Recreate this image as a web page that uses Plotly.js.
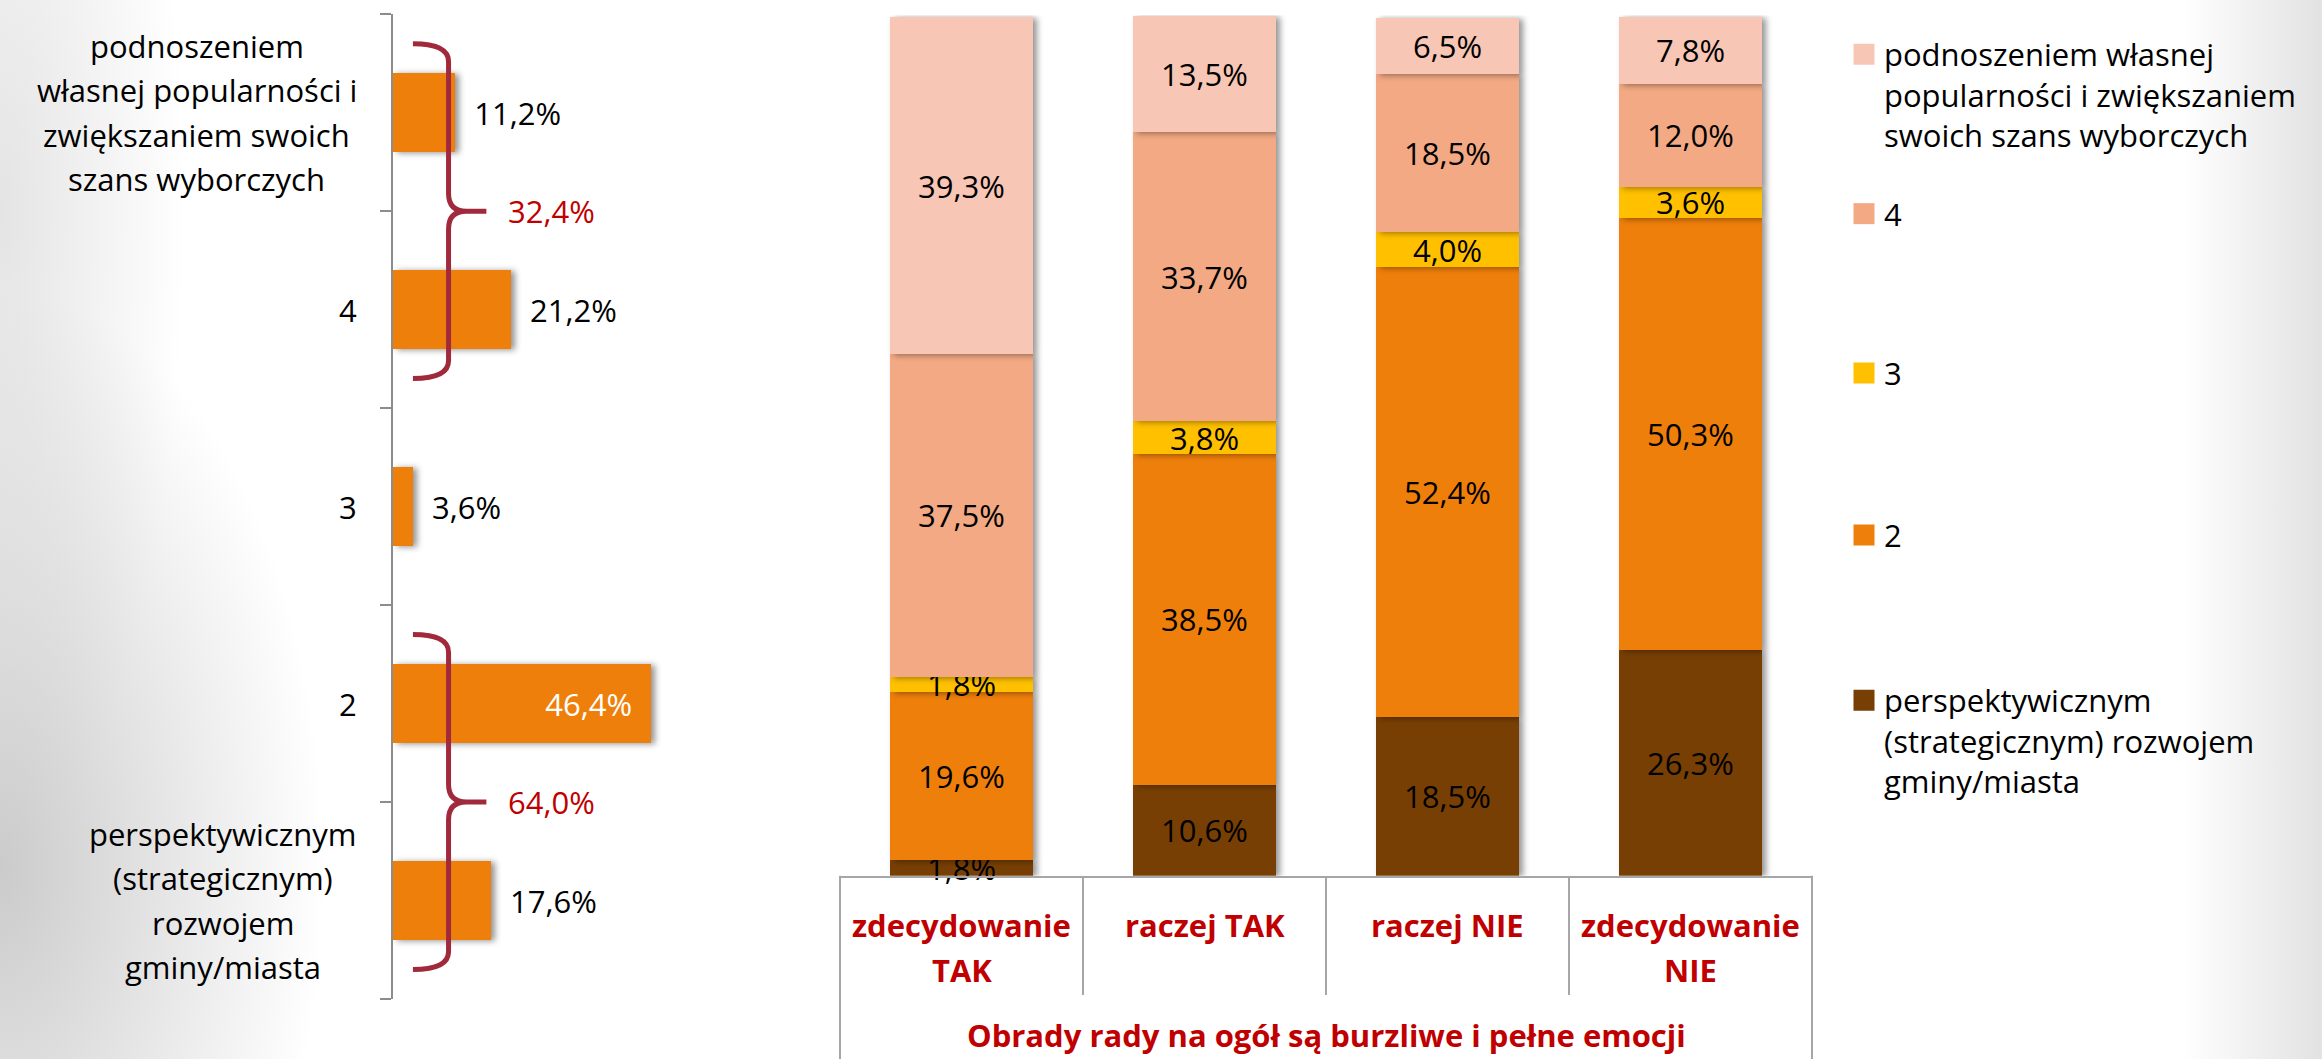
<!DOCTYPE html>
<html>
<head>
<meta charset="utf-8">
<script src="https://cdn.plot.ly/plotly-3.0.1.min.js"></script>
<style>
html,body{margin:0;padding:0;}
body{
  width:2322px;height:1059px;overflow:hidden;
  background:
    radial-gradient(ellipse 14% 55% at 0% 82%, rgba(200,200,200,0.95), rgba(255,255,255,0) 100%),
    radial-gradient(ellipse 8% 60% at 0% 20%, rgba(225,225,225,0.9), rgba(255,255,255,0) 100%),
    linear-gradient(to left, rgba(226,226,226,1) 0%, rgba(255,255,255,0) 6%),
    #ffffff;
}
#chart{width:2322px;height:1059px;}
.barlayer .point path{filter:drop-shadow(4px 1px 3px rgba(0,0,0,0.42));}
</style>
</head>
<body>
<div id="chart"></div>
<script>
// ---------------- DATA ----------------
const leftCategories = [
  'perspektywicznym (strategicznym) rozwojem gminy/miasta',
  '2',
  '3',
  '4',
  'podnoszeniem własnej popularności i zwiększaniem swoich szans wyborczych'
];
const leftLabelLines = [
  ['perspektywicznym', '(strategicznym)', 'rozwojem', 'gminy/miasta'],
  ['2'],
  ['3'],
  ['4'],
  ['podnoszeniem', 'własnej popularności i', 'zwiększaniem swoich', 'szans wyborczych']
];
const leftValues = [17.6, 46.4, 3.6, 21.2, 11.2];
const leftTextPositions = ['outside', 'inside', 'outside', 'outside', 'outside'];
const leftTextColors = ['#000000', '#ffffff', '#000000', '#000000', '#000000'];
const braceGroups = [[3, 4], [0, 1]];   // category index pairs summed by the braces

const rightCategories = ['zdecydowanie TAK', 'raczej TAK', 'raczej NIE', 'zdecydowanie NIE'];
const rightLabelLines = [['zdecydowanie', 'TAK'], ['raczej TAK'], ['raczej NIE'], ['zdecydowanie', 'NIE']];
const groupTitle = 'Obrady rady na ogół są burzliwe i pełne emocji';

const seriesLegendNames = [
  'perspektywicznym<br>(strategicznym) rozwojem<br>gminy/miasta',
  '2',
  '3',
  '4',
  'podnoszeniem własnej<br>popularności i zwiększaniem<br>swoich szans wyborczych'
];
const seriesPerspektywicznym = [1.8, 10.6, 18.5, 26.3];
const series2 = [19.6, 38.5, 52.4, 50.3];
const series3 = [1.8, 3.8, 4.0, 3.6];
const series4 = [37.5, 33.7, 18.5, 12.0];
const seriesPodnoszeniem = [39.3, 13.5, 6.5, 7.8];
const seriesValues = [seriesPerspektywicznym, series2, series3, series4, seriesPodnoszeniem];

// ---------------- STYLE / LAYOUT ----------------
const W = 2322, H = 1059;
const FONT = "'Open Sans', 'Noto Sans', sans-serif";
const FS = 31;
const seriesColors = ['#783F04', '#EF7F0B', '#FFC000', '#F2A984', '#F7C6B5'];
const barOrange = '#EF7F0B';
const red = '#C00000';
const braceColor = '#A02A3C';
const axisGray = '#8C8C8C';
const tableGray = '#A6A6A6';
const legendTopY = [698.7, 533.4, 371.3, 212, 52.5];

const fx = px => px / W;
const fy = py => 1 - py / H;

// measure text width for centring multi-line category labels
const ctx = document.createElement('canvas').getContext('2d');
ctx.font = FS + "px 'Open Sans'";
const tw = s => ctx.measureText(s).width;

// ---------------- TRACES ----------------
const traces = [];

traces.push({
  type: 'bar', orientation: 'h',
  x: leftValues, y: leftCategories,
  xaxis: 'x', yaxis: 'y',
  width: 0.4,
  marker: {color: barOrange, line: {width: 0}},
  texttemplate: leftTextPositions.map(p => p === 'inside' ? '%{x:.1f}%\u00a0\u00a0' : '\u00a0\u00a0%{x:.1f}%'),
  textposition: leftTextPositions,
  insidetextanchor: 'end',
  textangle: 0,
  textfont: {family: FONT, size: FS, color: leftTextColors},
  insidetextfont: {family: FONT, size: FS, color: leftTextColors},
  outsidetextfont: {family: FONT, size: FS, color: leftTextColors},
  cliponaxis: false,
  showlegend: false,
  hoverinfo: 'skip'
});

seriesValues.forEach((vals, i) => {
  traces.push({
    type: 'bar',
    x: rightCategories, y: vals,
    xaxis: 'x2', yaxis: 'y2',
    name: seriesLegendNames[i],
    legend: i === 0 ? 'legend' : 'legend' + (i + 1),
    width: 0.59,
    marker: {color: seriesColors[i], line: {width: 0}},
    texttemplate: '%{y:.1f}%',
    textposition: 'inside',
    insidetextanchor: 'middle',
    textangle: 0,
    textfont: {family: FONT, size: FS, color: '#000000'},
    insidetextfont: {family: FONT, size: FS, color: '#000000'},
    cliponaxis: false,
    hoverinfo: 'skip'
  });
});

// ---------------- SHAPES ----------------
const shapes = [];
const STEM = 10.0, TAIL = 3.6, TIP = 16.8, CURLX = 3.2, HALF = 0.85, CURLY = 0.09;
const f = v => v.toFixed(3);
braceGroups.forEach(g => {
  const c = (g[0] + g[1]) / 2;
  const p =
    'M' + f(TAIL) + ',' + f(c + HALF) +
    ' Q' + f(STEM) + ',' + f(c + HALF) + ' ' + f(STEM) + ',' + f(c + HALF - CURLY) +
    ' L' + f(STEM) + ',' + f(c + CURLY) +
    ' Q' + f(STEM) + ',' + f(c) + ' ' + f(STEM + CURLX) + ',' + f(c) +
    ' L' + f(TIP) + ',' + f(c) +
    ' M' + f(STEM + CURLX) + ',' + f(c) +
    ' Q' + f(STEM) + ',' + f(c) + ' ' + f(STEM) + ',' + f(c - CURLY) +
    ' L' + f(STEM) + ',' + f(c - HALF + CURLY) +
    ' Q' + f(STEM) + ',' + f(c - HALF) + ' ' + f(TAIL) + ',' + f(c - HALF);
  shapes.push({type: 'path', xref: 'x', yref: 'y', path: p,
    line: {color: braceColor, width: 5}, fillcolor: 'rgba(0,0,0,0)', layer: 'above'});
});
// outer table borders of the category axis (right chart)
[0, 1].forEach(d => {
  shapes.push({type: 'line', xref: 'x2 domain', yref: 'paper', x0: d, x1: d,
    y0: 0, y1: fy(875.8), line: {color: tableGray, width: 2}});
});

// ---------------- ANNOTATIONS ----------------
const annotations = [];
const LEFT_LABEL_RIGHT = 357, LINE_GAP = 44.5;
leftCategories.forEach((cat, i) => {
  const lines = leftLabelLines[i];
  const maxW = Math.max(...lines.map(tw));
  const cx = LEFT_LABEL_RIGHT - maxW / 2;
  const n = lines.length;
  lines.forEach((ln, k) => {
    annotations.push({xref: 'paper', x: fx(cx), xanchor: 'center',
      yref: 'y', y: i + 1e-6, yanchor: 'middle', yshift: ((n - 1) / 2 - k) * LINE_GAP,
      text: ln, showarrow: false, font: {family: FONT, size: FS, color: '#000000'}});
  });
});
braceGroups.forEach(g => {
  const c = (g[0] + g[1]) / 2;
  const sum = leftValues[g[0]] + leftValues[g[1]];
  annotations.push({xref: 'x', x: TIP + 3.6, xanchor: 'left', yref: 'y', y: c, yanchor: 'middle',
    text: sum.toFixed(1).replace('.', ',') + '%', showarrow: false,
    font: {family: FONT, size: FS, color: red}});
});
rightCategories.forEach((cat, i) => {
  rightLabelLines[i].forEach((ln, k) => {
    annotations.push({xref: 'x2', x: cat, xanchor: 'center', yref: 'paper', y: fy(924.7 + k * 45.6),
      yanchor: 'middle', text: ln, showarrow: false,
      font: {family: FONT, size: FS, color: red, weight: 700}});
  });
});
annotations.push({xref: 'x2 domain', x: 0.5, xanchor: 'center', yref: 'paper', y: fy(1035), yanchor: 'middle',
  text: groupTitle, showarrow: false, font: {family: FONT, size: FS, color: red, weight: 700}});

// ---------------- LAYOUT ----------------
const legendCfg = yTop => ({
  x: fx(1844), xanchor: 'left', y: fy(yTop - 25), yanchor: 'top',
  bgcolor: 'rgba(0,0,0,0)', borderwidth: 0, valign: 'top',
  font: {family: FONT, size: FS, color: '#000000'},
  itemclick: false, itemdoubleclick: false
});

const Y2_BOTTOM = 875.8, PX_PER_PCT = (875.8 - 16.9) / 100, Y2_MAX = 100.2;
const layout = {
  width: W, height: H, autosize: false,
  margin: {l: 0, r: 0, t: 0, b: 0, pad: 0},
  paper_bgcolor: 'rgba(0,0,0,0)', plot_bgcolor: 'rgba(0,0,0,0)',
  font: {family: FONT, size: FS, color: '#000000'},
  separators: ', ',
  barmode: 'stack',
  uniformtext: {mode: 'show', minsize: FS},
  xaxis: {domain: [fx(392.9), fx(392.9 + 5.565 * 60)], range: [0, 60], visible: false, fixedrange: true},
  yaxis: {domain: [fy(999), fy(14.2)], anchor: 'x', type: 'category',
    categoryorder: 'array', categoryarray: leftCategories,
    showline: true, linecolor: axisGray, linewidth: 2,
    ticks: 'outside', tickson: 'boundaries', ticklen: 11, tickwidth: 2, tickcolor: axisGray,
    showticklabels: false, showgrid: false, zeroline: false, fixedrange: true},
  xaxis2: {domain: [fx(840), fx(1812)], anchor: 'y2', type: 'category',
    categoryorder: 'array', categoryarray: rightCategories,
    showline: true, linecolor: tableGray, linewidth: 2,
    ticks: 'outside', tickson: 'boundaries', ticklen: 117, tickwidth: 2, tickcolor: tableGray,
    showticklabels: false, showgrid: false, zeroline: false, fixedrange: true},
  yaxis2: {domain: [fy(Y2_BOTTOM), fy(Y2_BOTTOM - Y2_MAX * PX_PER_PCT)], anchor: 'x2', range: [0, Y2_MAX],
    visible: false, fixedrange: true},
  shapes: shapes,
  annotations: annotations
};
seriesValues.forEach((v, i) => {
  layout[i === 0 ? 'legend' : 'legend' + (i + 1)] = legendCfg(legendTopY[i]);
});

Plotly.newPlot('chart', traces, layout, {staticPlot: true, displayModeBar: false}).then(() => {
  document.querySelectorAll('.legendpoints path').forEach(p => p.setAttribute('d', 'M10.5,10.5H-10.5V-10.5H10.5Z'));
});
</script>
</body>
</html>
